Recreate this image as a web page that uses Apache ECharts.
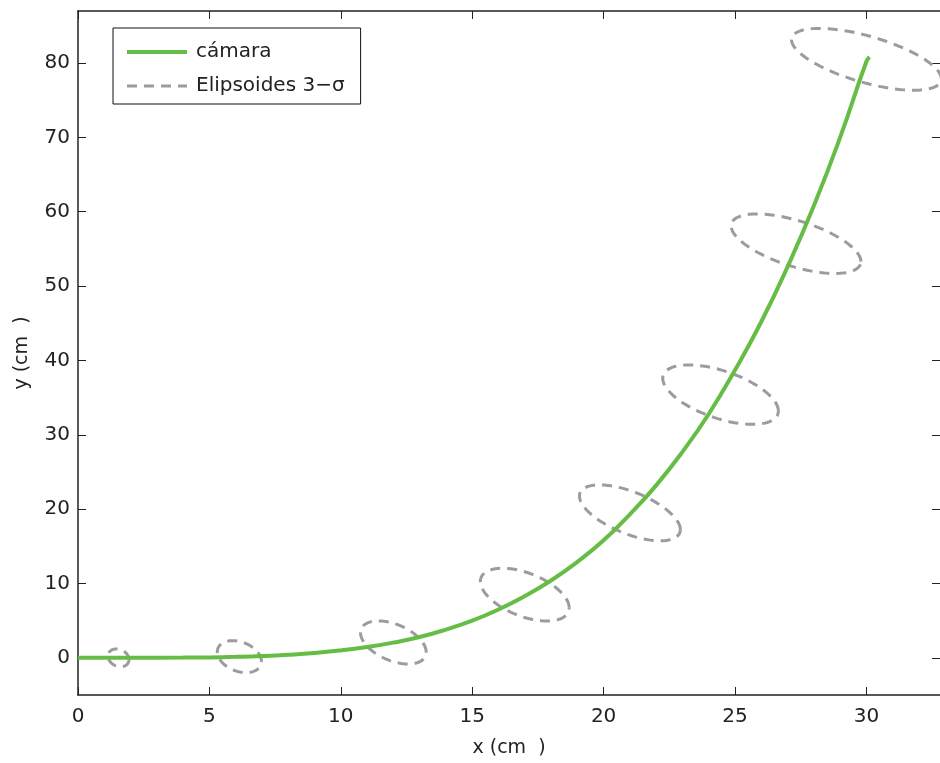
<!DOCTYPE html>
<html>
<head>
<meta charset="utf-8">
<script src="https://cdn.jsdelivr.net/npm/echarts@6/dist/echarts.min.js"></script>
<style>
  html, body {margin: 0; padding: 0; background: #fff;}
  #chart {width: 940px; height: 763px;}
</style>
</head>
<body>
<div id="chart"></div>
<script>
// trayectoria de la cámara
var camX = [0, 2, 4, 5, 6, 7, 8, 9, 10, 11, 12, 13, 14, 15, 16, 17, 18, 19, 20, 21, 22, 23, 24, 25, 26, 27, 28, 29, 30, 30.12]
var camY = [0, 0.01, 0.03, 0.06, 0.13, 0.24, 0.41, 0.65, 1.0, 1.45, 2.05, 2.8, 3.8, 5.0, 6.5, 8.3, 10.4, 12.9, 15.8, 19.3, 23.2, 27.7, 32.8, 38.7, 45.2, 52.6, 60.8, 70.0, 80.2, 80.8]

// elipsoides 3-sigma: centro, semiejes (unidades de datos) y correlación
var ellX = [1.54, 6.14, 12.0, 17.0, 21.0, 24.45, 27.32, 30.0]
var ellY = [0.0, 0.16, 2.07, 8.5, 19.5, 35.4, 55.7, 80.5]
var ellSx = [0.40, 0.84, 1.25, 1.69, 1.92, 2.2, 2.47, 2.85]
var ellSy = [1.2, 2.15, 2.9, 3.55, 3.76, 4.0, 4.0, 4.16]
var ellRho = [-0.2, -0.3, -0.45, -0.5, -0.6, -0.55, -0.6, -0.63]

var xTicks = [0, 5, 10, 15, 20, 25, 30]
var yTicks = [0, 10, 20, 30, 40, 50, 60, 70, 80]

var font = 'DejaVu Sans'
var axisColor = '#222'
var green = '#66bd45'
var gray = '#9b9ba0'

var camData = camX.map(function (x, i) { return [x, camY[i]] })
var ellData = ellX.map(function (x, i) { return [x, ellY[i], ellSx[i], ellSy[i], ellRho[i]] })

function boxAxis (pos, ticks, min, max, showLine) {
  return {
    type: 'value',
    position: pos,
    min: min,
    max: max,
    axisLine: {show: showLine, onZero: false, lineStyle: {color: axisColor, width: 1.5}},
    axisTick: {show: true, inside: true, length: 8, lineStyle: {color: axisColor}, customValues: ticks},
    axisLabel: {show: false},
    splitLine: {show: false}
  }
}

var option = {
  backgroundColor: '#fff',
  animation: false,
  grid: {left: 78, top: 11, right: -1, bottom: 67},
  legend: {
    orient: 'vertical',
    left: 113,
    top: 28,
    padding: [14, 16, 8, 12],
    itemGap: 14,
    itemWidth: 60,
    itemHeight: 14,
    borderColor: '#111',
    borderWidth: 1,
    itemStyle: {opacity: 0},
    data: [
      {name: 'cámara', lineStyle: {width: 4}},
      {name: 'Elipsoides 3−σ', lineStyle: {width: 3, type: [10, 7]}}
    ],
    textStyle: {fontFamily: font, fontSize: 20, color: '#222', padding: [0, 0, 0, 4]}
  },
  xAxis: [{
    type: 'value',
    min: 0,
    max: 32.8,
    interval: 5,
    name: 'x (cm  )',
    nameLocation: 'middle',
    nameGap: 44,
    nameTextStyle: {fontFamily: font, fontSize: 19, color: '#222'},
    axisLine: {onZero: false, lineStyle: {color: axisColor, width: 1.5}},
    axisTick: {inside: true, length: 8, lineStyle: {color: axisColor}, customValues: xTicks},
    axisLabel: {fontFamily: font, fontSize: 20, color: '#222', margin: 12, customValues: xTicks},
    splitLine: {show: false}
  }, boxAxis('top', xTicks, 0, 32.8, true)],
  yAxis: [{
    type: 'value',
    min: -5,
    max: 87,
    name: 'y (cm  )',
    nameLocation: 'middle',
    nameGap: 46,
    nameTextStyle: {fontFamily: font, fontSize: 19, color: '#222'},
    axisLine: {onZero: false, lineStyle: {color: axisColor, width: 1.5}},
    axisTick: {inside: true, length: 8, lineStyle: {color: axisColor}, customValues: yTicks},
    axisLabel: {fontFamily: font, fontSize: 20, color: '#222', margin: 8, customValues: yTicks},
    splitLine: {show: false}
  }, boxAxis('right', yTicks, -5, 87, false)],
  series: [{
    name: 'cámara',
    type: 'line',
    data: camData,
    smooth: true,
    symbol: 'none',
    color: green,
    lineStyle: {width: 4, color: green},
    z: 3
  }, {
    name: 'Elipsoides 3−σ',
    type: 'line',
    data: [],
    symbol: 'none',
    color: gray,
    lineStyle: {width: 3, type: [10, 7], color: gray}
  }, {
    name: 'ellipses',
    type: 'custom',
    data: ellData,
    encode: {x: 0, y: 1},
    z: 2,
    renderItem: function (params, api) {
      var cx = api.value(0)
      var cy = api.value(1)
      var sx = api.value(2)
      var sy = api.value(3)
      var r = api.value(4)
      var pts = []
      for (var i = 0; i <= 90; i++) {
        var t = i / 90 * 2 * Math.PI
        pts.push(api.coord([cx + sx * Math.cos(t), cy + sy * (r * Math.cos(t) + Math.sqrt(1 - r * r) * Math.sin(t))]))
      }
      return {
        type: 'polyline',
        shape: {points: pts},
        style: {stroke: gray, lineWidth: 3, lineDash: [10, 7], fill: null}
      }
    }
  }]
}

var charts = echarts.init(document.getElementById('chart'))
charts.setOption(option)
</script>
</body>
</html>
